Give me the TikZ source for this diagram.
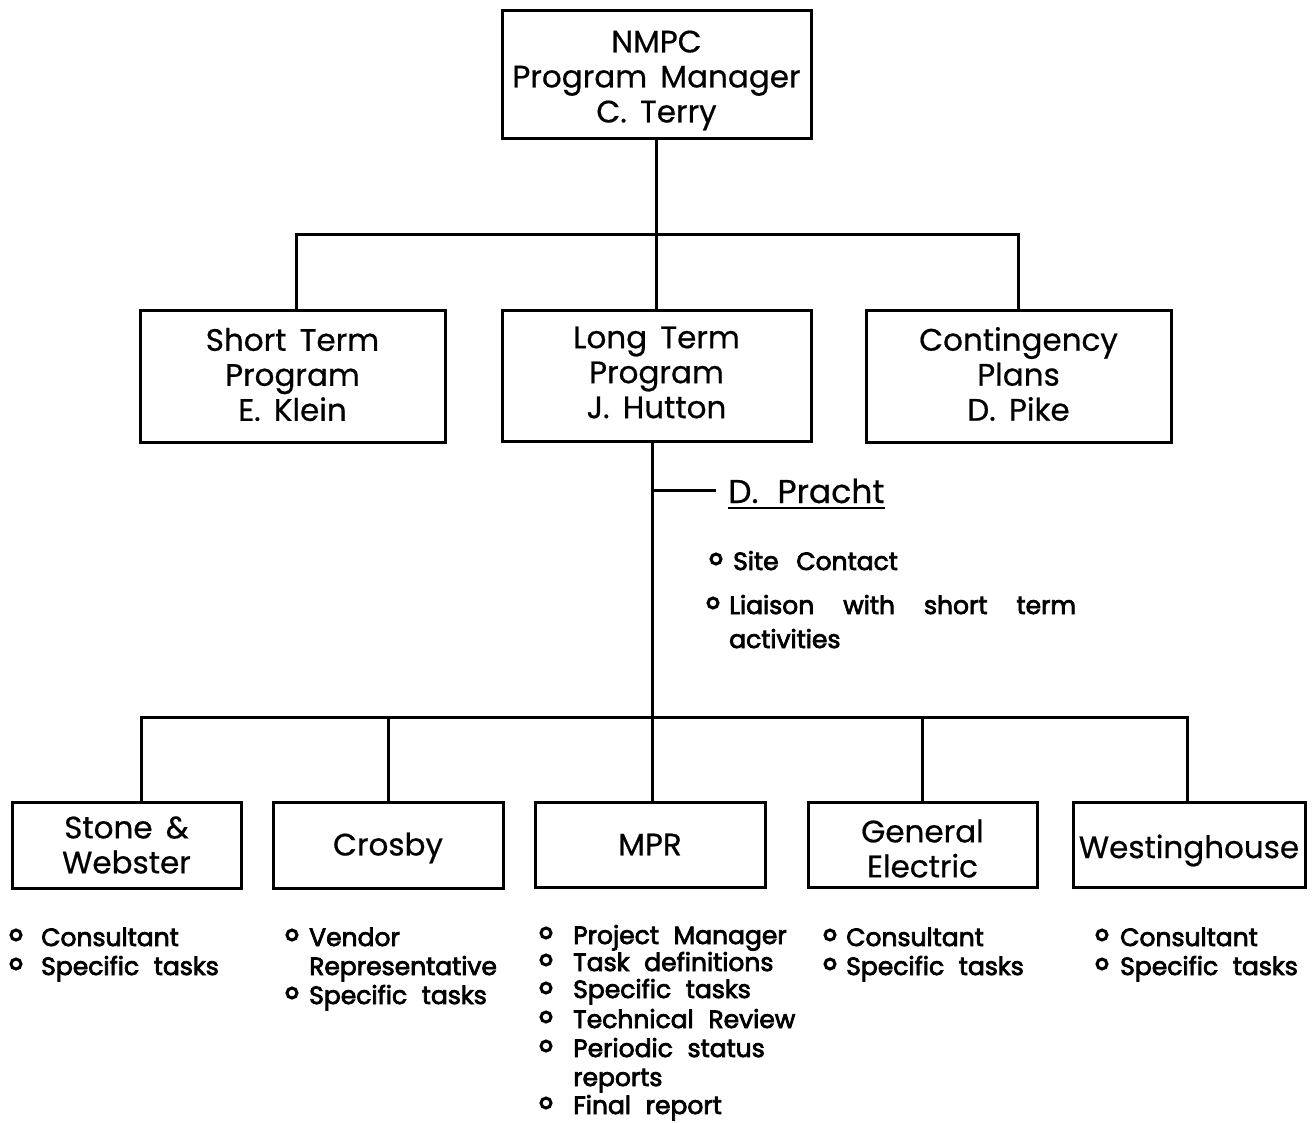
\documentclass[tikz,border=0pt]{standalone}
\usepackage{fontspec}
\setmainfont{Poppins}[WordSpace=1.6,FakeBold=0.6]
\newfontfamily\bulfont{Poppins}[FakeBold=3,WordSpace=2.2]
\usetikzlibrary{calc}
\begin{document}
\begin{tikzpicture}[x=1pt,y=-1pt,
  box/.style={draw, line width=3pt, inner sep=0pt},
  boxtxt/.style={inner sep=0pt, align=center, font=\fontsize{31}{35}\selectfont},
  ln/.style={line width=3pt},
  btxt/.style={anchor=base west, inner sep=0pt, font=\bulfont\fontsize{25}{29}\selectfont},
  bul/.style={circle, draw, line width=3pt, inner sep=0pt, minimum size=10pt}]
\useasboundingbox[fill=white] (0,0) rectangle (1313,1122);
% top level
\node[box, minimum width=309, minimum height=128] (nmpc) at (656.5,74) {};
\node[boxtxt] (nmpcT) at ([yshift=-6.5pt]nmpc.center) {NMPC\\Program Manager\\C. Terry};
% second level
\node[box, minimum width=305, minimum height=132] (st) at (292.5,376) {};
\node[boxtxt] (stT) at ([yshift=1.5pt]st.center) {Short Term\\Program\\E. Klein};
\node[box, minimum width=309, minimum height=131] (lt) at (656.5,375.5) {};
\node[boxtxt] (ltT) at ([yshift=3pt]lt.center) {Long Term\\Program\\J. Hutton};
\node[box, minimum width=305, minimum height=132] (cp) at (1018.5,376) {};
\node[boxtxt] (cpT) at ([yshift=2pt]cp.center) {Contingency\\Plans\\D. Pike};
% third level
\node[box, minimum width=229, minimum height=86] (sw) at (126.5,845) {};
\node[boxtxt] (swT) at (sw.center) {Stone \&\\Webster};
\node[box, minimum width=230, minimum height=86] (cr) at (388,845) {};
\node[boxtxt] (crT) at ([yshift=-3pt]cr.center) {Crosby};
\node[box, minimum width=230, minimum height=85] (mpr) at (650,844.5) {};
\node[boxtxt] (mprT) at (mpr.center) {MPR};
\node[box, minimum width=229, minimum height=85] (ge) at (922.5,844.5) {};
\node[boxtxt] (geT) at ([yshift=-4pt]ge.center) {General\\Electric};
\node[box, minimum width=232, minimum height=85] (wh) at (1189,844.5) {};
\node[boxtxt] (whT) at ([yshift=-6pt]wh.center) {Westinghouse};
% connectors top
\coordinate (j1) at (656,234);
\draw[ln] (nmpc.south) -- (lt.north);
\draw[ln] ([xshift=3.5pt]st.north) -- ([xshift=3.5pt]st.north |- j1) -- (cp.north |- j1) -- (cp.north);
% connectors bottom
\coordinate (j2) at (652,717);
\coordinate (ltb) at ([xshift=-4pt]lt.south);
\draw[ln] (ltb) -- (ltb |- j2);
\coordinate (swd) at ([xshift=14.5pt]sw.north);
\coordinate (whd) at ([xshift=-2pt]wh.north);
\draw[ln] (swd) -- (swd |- j2) -- (whd |- j2) -- (whd);
\draw[ln] (cr.north) -- (cr.north |- j2);
\draw[ln] ([xshift=2pt]mpr.north) -- ([xshift=2pt]mpr.north |- j2);
\draw[ln] (ge.north) -- (ge.north |- j2);
% D. Pracht
\node[anchor=base west, inner sep=0pt, font=\fontsize{33}{35}\selectfont] (pr) at (728,503) {D.\ \hspace{5pt}Pracht};
\coordinate (prj) at (ltb |- 0,490);
\draw[ln] (prj) -- ++(63,0) coordinate (pre);
\draw[line width=2.4pt] ([yshift=-5pt]pr.base west) -- ([yshift=-5pt]pr.base east);
\node[bul] (b1) at (716,559) {};
\node[btxt] (t1) at (733,570) {Site\ \hspace{3pt}Contact};
\node[bul] (b2) at (713,603) {};
\node[btxt] (t2) at (729,614) {Liaison\hspace{29pt}with\hspace{29pt}short\hspace{29pt}term};
\node[btxt] (t3) at (729,648) {activities};
% Stone & Webster list
\node[bul] (sb1) at (16,935) {};
\node[btxt] (s1) at (41,946) {Consultant};
\node[bul] (sb2) at (16,964) {};
\node[btxt] (s2) at (41,975) {Specific tasks};
% Crosby list
\node[bul] (cb1) at (292,935) {};
\node[btxt] (c1) at (309,946) {Vendor};
\node[btxt] (c2) at (309,975) {Representative};
\node[bul] (cb3) at (292,993) {};
\node[btxt] (c3) at (309,1004) {Specific tasks};
% MPR list
\node[bul] (mb1) at (546,933) {};
\node[btxt] (m1) at (573,944) {Project Manager};
\node[bul] (mb2) at (546,960) {};
\node[btxt] (m2) at (573,971) {Task definitions};
\node[bul] (mb3) at (546,988) {};
\node[btxt] (m3) at (573,998) {Specific tasks};
\node[bul] (mb4) at (546,1017) {};
\node[btxt] (m4) at (573,1028) {Technical Review};
\node[bul] (mb5) at (546,1046) {};
\node[btxt] (m5) at (573,1057) {Periodic status};
\node[btxt] (m6) at (573,1086) {reports};
\node[bul] (mb7) at (546,1103) {};
\node[btxt] (m7) at (573,1114) {Final report};
% GE list
\node[bul] (gb1) at (830,935) {};
\node[btxt] (g1) at (846,946) {Consultant};
\node[bul] (gb2) at (830,964) {};
\node[btxt] (g2) at (846,975) {Specific tasks};
% Westinghouse list
\node[bul] (wb1) at (1102,935) {};
\node[btxt] (w1) at (1120,946) {Consultant};
\node[bul] (wb2) at (1102,964) {};
\node[btxt] (w2) at (1120,975) {Specific tasks};
\end{tikzpicture}
\end{document}
